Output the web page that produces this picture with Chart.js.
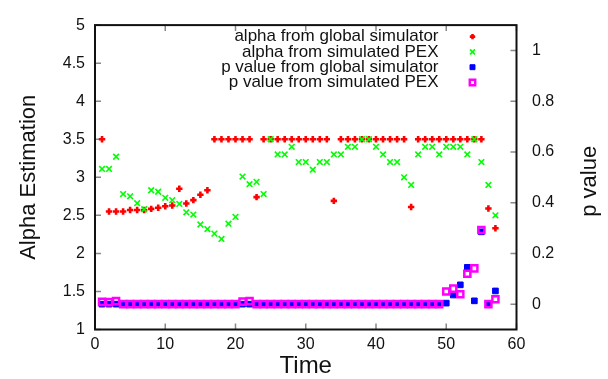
<!DOCTYPE html>
<html>
<head>
<meta charset="utf-8">
<script src="https://cdn.jsdelivr.net/npm/chart.js@4/dist/chart.umd.min.js"></script>
<style>
html, body { margin: 0; padding: 0; background: #fff; }
</style>
</head>
<body>
<canvas id="chart" width="608" height="379"></canvas>
<script>
var time = [1, 2, 3, 4, 5, 6, 7, 8, 9, 10, 11, 12, 13, 14, 15, 16, 17, 18, 19, 20,
            21, 22, 23, 24, 25, 26, 27, 28, 29, 30, 31, 32, 33, 34, 35, 36, 37, 38, 39, 40,
            41, 42, 43, 44, 45, 46, 47, 48, 49, 50, 51, 52, 53, 54, 55, 56, 57];

var alphaGlobal = [3.5, 2.55, 2.55, 2.55, 2.57, 2.57, 2.57, 2.585, 2.6, 2.62, 2.63, 2.85, 2.655, 2.7, 2.77, 2.83,
                   3.5, 3.5, 3.5, 3.5, 3.5, 3.5, 2.74,
                   3.5, 3.5, 3.5, 3.5, 3.5, 3.5, 3.5, 3.5, 3.5, 3.5, 2.69,
                   3.5, 3.5, 3.5, 3.5, 3.5, 3.5, 3.5, 3.5, 3.5, 3.5, 2.61,
                   3.5, 3.5, 3.5, 3.5, 3.5, 3.5, 3.5, 3.5, 3.5, 3.5, 2.59, 2.33];

var alphaPEX = [3.11, 3.11, 3.27, 2.78, 2.75, 2.66, 2.58, 2.83, 2.81, 2.73, 2.7, 2.65, 2.54, 2.51, 2.38, 2.32,
                2.26, 2.19, 2.39, 2.48, 3.01, 2.91, 2.94, 2.78, 3.5, 3.3, 3.3, 3.4, 3.2, 3.2, 3.1, 3.2,
                3.2, 3.3, 3.3, 3.4, 3.4, 3.5, 3.5, 3.4, 3.3, 3.2, 3.2, 3.0, 2.9, 3.3, 3.4, 3.4,
                3.3, 3.4, 3.4, 3.4, 3.3, 3.5, 3.2, 2.9, 2.5];

var pGlobal = [0, 0, 0, 0, 0, 0, 0, 0, 0, 0, 0, 0, 0, 0, 0, 0, 0, 0, 0, 0,
               0, 0, 0, 0, 0, 0, 0, 0, 0, 0, 0, 0, 0, 0, 0, 0, 0, 0, 0, 0,
               0, 0, 0, 0, 0, 0, 0, 0, 0, 0.004, 0.036, 0.076, 0.145, 0.013, 0.285, 0, 0.052];

var pPEX = [0.009, 0.008, 0.012, 0, 0, 0, 0, 0, 0, 0, 0, 0, 0, 0, 0, 0, 0, 0, 0, 0,
            0.01, 0.012, 0, 0, 0, 0, 0, 0, 0, 0, 0, 0, 0, 0, 0, 0, 0, 0, 0, 0,
            0, 0, 0, 0, 0, 0, 0, 0, 0, 0.05, 0.061, 0.039, 0.12, 0.141, 0.292, 0, 0.019];

var xTicks = [0, 10, 20, 30, 40, 50, 60];
var yTicks = [1, 1.5, 2, 2.5, 3, 3.5, 4, 4.5, 5];
var y2Ticks = [0, 0.2, 0.4, 0.6, 0.8, 1];

var FONT = '"Liberation Sans", Arial, sans-serif';

function pts(values) {
    return time.map(function(t, i) { return {x: t, y: values[i]}; });
}

// inward tick marks, frame box, key and right axis title like gnuplot
var gnuplotLook = {
    id: 'gnuplotLook',
    beforeDatasetsDraw: function(chart) {
        var ctx = chart.ctx, a = chart.chartArea, s = chart.scales;
        ctx.save();
        ctx.strokeStyle = '#888';
        ctx.lineWidth = 1.5;
        ctx.beginPath();
        s.x.ticks.forEach(function(t) {
            var px = s.x.getPixelForValue(t.value);
            ctx.moveTo(px, a.bottom); ctx.lineTo(px, a.bottom - 6);
            ctx.moveTo(px, a.top); ctx.lineTo(px, a.top + 6);
        });
        s.y.ticks.forEach(function(t) {
            var py = s.y.getPixelForValue(t.value);
            ctx.moveTo(a.left, py); ctx.lineTo(a.left + 6, py);
        });
        s.y2.ticks.forEach(function(t) {
            var py = s.y2.getPixelForValue(t.value);
            ctx.moveTo(a.right, py); ctx.lineTo(a.right - 6, py);
        });
        ctx.stroke();
        ctx.strokeStyle = '#111';
        ctx.lineWidth = 2;
        ctx.strokeRect(a.left, a.top, a.right - a.left, a.bottom - a.top);
        ctx.restore();
    },
    afterDraw: function(chart) {
        var ctx = chart.ctx, a = chart.chartArea;
        ctx.save();
        // key
        var keyX = a.right - 78, markX = a.right - 44;
        chart.data.datasets.forEach(function(ds, i) {
            var y = a.top + 11.5 + i * 15.3;
            ctx.font = '17px ' + FONT;
            ctx.fillStyle = '#111';
            ctx.textAlign = 'right';
            ctx.textBaseline = 'middle';
            ctx.fillText(ds.label, keyX, y);
            ctx.fillStyle = ds.backgroundColor;
            ctx.strokeStyle = ds.borderColor;
            ctx.lineWidth = ds.borderWidth;
            Chart.helpers.drawPoint(ctx, {
                pointStyle: ds.pointStyle, radius: ds.pointRadius - 0.5, rotation: 0, borderWidth: ds.borderWidth
            }, markX, y);
        });
        // right axis title, reads bottom to top
        ctx.translate(596, (a.top + a.bottom) / 2 + 4);
        ctx.rotate(-Math.PI / 2);
        ctx.font = '22px ' + FONT;
        ctx.fillStyle = '#111';
        ctx.textAlign = 'center';
        ctx.textBaseline = 'alphabetic';
        ctx.fillText('p value', 0, 0);
        ctx.restore();
    }
};

var ctx1 = document.getElementById('chart').getContext('2d');
var myChart = new Chart(ctx1, {
    type: 'scatter',
    data: {
        datasets: [{
            label: 'alpha from global simulator',
            data: pts(alphaGlobal),
            yAxisID: 'y',
            pointStyle: 'cross',
            pointRadius: 3.2,
            borderWidth: 2.6,
            borderColor: '#ff0000',
            backgroundColor: '#ff0000',
            order: 4
        }, {
            label: 'alpha from simulated PEX',
            data: pts(alphaPEX),
            yAxisID: 'y',
            pointStyle: 'crossRot',
            pointRadius: 4,
            borderWidth: 1.6,
            borderColor: '#00ff00',
            backgroundColor: '#00ff00',
            order: 3
        }, {
            label: 'p value from global simulator',
            data: pts(pGlobal),
            yAxisID: 'y2',
            pointStyle: 'rect',
            pointRadius: 4,
            borderWidth: 1,
            borderColor: '#0000ff',
            backgroundColor: '#0000ff',
            order: 2
        }, {
            label: 'p value from simulated PEX',
            data: pts(pPEX),
            yAxisID: 'y2',
            pointStyle: 'rect',
            pointRadius: 4.3,
            borderWidth: 2.5,
            borderColor: '#ff00ff',
            backgroundColor: 'rgba(0,0,0,0)',
            order: 1
        }]
    },
    options: {
        responsive: false,
        animation: false,
        devicePixelRatio: 1,
        layout: { padding: { top: 13.5, left: 0, right: 0, bottom: 0 } },
        elements: { point: { hoverRadius: 4 } },
        scales: {
            x: {
                type: 'linear',
                min: 0,
                max: 60,
                afterBuildTicks: function(s) { s.ticks = xTicks.map(function(v) { return {value: v}; }); },
                afterFit: function(s) { s.height = 49.5; },
                grid: { display: false, drawTicks: false },
                border: { display: false },
                ticks: { font: { family: FONT, size: 16 }, color: '#111', padding: 5, maxRotation: 0, autoSkip: false },
                title: { display: true, text: 'Time', color: '#111', font: { family: FONT, size: 24 }, padding: { top: 0, bottom: -2 } }
            },
            y: {
                type: 'linear',
                position: 'left',
                min: 1,
                max: 5,
                afterBuildTicks: function(s) { s.ticks = yTicks.map(function(v) { return {value: v}; }); },
                afterFit: function(s) { s.width = 95; },
                grid: { display: false, drawTicks: false },
                border: { display: false },
                ticks: { font: { family: FONT, size: 16 }, color: '#111', padding: 10,
                         callback: function(v) { return String(v); } },
                title: { display: true, text: 'Alpha Estimation', color: '#111', font: { family: FONT, size: 22 }, padding: { top: 16, bottom: 0 } }
            },
            y2: {
                type: 'linear',
                position: 'right',
                min: -0.1,
                max: 1.1,
                afterBuildTicks: function(s) { s.ticks = y2Ticks.map(function(v) { return {value: v}; }); },
                afterFit: function(s) { s.width = 91.5; },
                grid: { display: false, drawTicks: false },
                border: { display: false },
                ticks: { font: { family: FONT, size: 16 }, color: '#111', padding: 15.5,
                         callback: function(v) { return String(v); } }
            }
        },
        plugins: {
            legend: { display: false },
            tooltip: { enabled: false }
        }
    },
    plugins: [gnuplotLook]
});
</script>
</body>
</html>
